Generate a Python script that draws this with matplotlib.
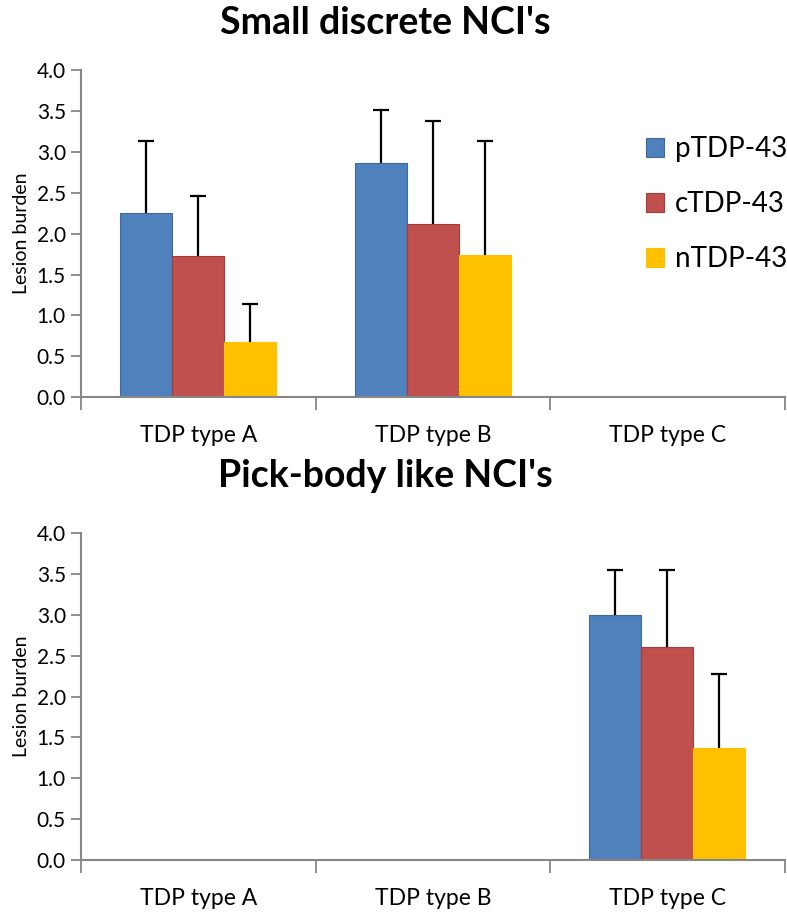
import matplotlib.pyplot as plt
import numpy as np

plt.rcParams['font.family'] = ['Lato', 'DejaVu Sans']

# Data
categories = ["TDP type A", "TDP type B", "TDP type C"]
series = ["pTDP-43", "cTDP-43", "nTDP-43"]
colors = ['#4F81BD', '#C0504D', '#FFC000']
edges = ['#3C6A9E', '#A13D3A', '#FFC000']

small_mean = [[2.25, 2.86, 0.0], [1.73, 2.12, 0.0], [0.67, 1.74, 0.0]]
small_err = [[0.89, 0.66, 0.0], [0.73, 1.26, 0.0], [0.47, 1.40, 0.0]]

pick_mean = [[0.0, 0.0, 3.0], [0.0, 0.0, 2.61], [0.0, 0.0, 1.37]]
pick_err = [[0.0, 0.0, 0.55], [0.0, 0.0, 0.94], [0.0, 0.0, 0.91]]

titles = ["Small discrete NCI's", "Pick-body like NCI's"]

fig = plt.figure(figsize=(7.87, 9.13), dpi=100)
ax1 = fig.add_axes([0.103, 0.565, 0.894, 0.358])
ax2 = fig.add_axes([0.103, 0.058, 0.894, 0.358])

x = np.arange(len(categories))
width = 0.222
spine_col = '#868686'


def draw(ax, means, errs):
    for i, name in enumerate(series):
        m = np.array(means[i])
        e = np.array(errs[i])
        pos = x + (i - 1) * width
        mask = m > 0
        ax.bar(pos[mask], m[mask], width, color=colors[i], edgecolor=edges[i],
               linewidth=0.8, label=name, zorder=2)
        if mask.any():
            eb = ax.errorbar(pos[mask], m[mask], yerr=[np.zeros(mask.sum()), e[mask]],
                             fmt='none', ecolor='black', elinewidth=1.6, capsize=6,
                             capthick=1.6, zorder=3)
            # only the upper cap is shown
            eb[1][0].set_visible(False)
    ax.set_xlim(-0.5, 2.5)
    ax.set_ylim(0, 4.0)
    ax.set_yticks(np.arange(0, 4.01, 0.5))
    ax.set_yticklabels([f"{v:.1f}" for v in np.arange(0, 4.01, 0.5)])
    ax.set_xticks([-0.5, 0.5, 1.5, 2.5])
    ax.set_xticklabels([])
    ax.set_xticks(x, minor=True)
    ax.set_xticklabels(categories, minor=True, fontsize=16.5)
    ax.tick_params(axis='x', which='minor', length=0, pad=20)
    ax.tick_params(axis='x', which='major', length=9, width=1.3, color=spine_col)
    ax.tick_params(axis='y', length=7, width=1.3, color=spine_col, labelsize=15, pad=4)
    for s in ['top', 'right']:
        ax.spines[s].set_visible(False)
    for s in ['left', 'bottom']:
        ax.spines[s].set_color(spine_col)
        ax.spines[s].set_linewidth(1.5)
    ax.set_ylabel("Lesion burden", fontsize=14, labelpad=5)


draw(ax1, small_mean, small_err)
draw(ax2, pick_mean, pick_err)

fig.text(0.49, 0.975, titles[0], ha='center', va='center', fontsize=27, fontweight='bold')
fig.text(0.49, 0.479, titles[1], ha='center', va='center', fontsize=27, fontweight='bold')

handles, labels = ax1.get_legend_handles_labels()
ax1.legend(handles[:3], labels[:3], loc='upper left', bbox_to_anchor=(0.821, 0.851),
           bbox_transform=fig.transFigure, frameon=False, fontsize=20,
           handlelength=0.65, handleheight=0.65, handletextpad=0.4,
           labelspacing=1.05, borderpad=0, borderaxespad=0)

fig.savefig("out.png", dpi=100)
